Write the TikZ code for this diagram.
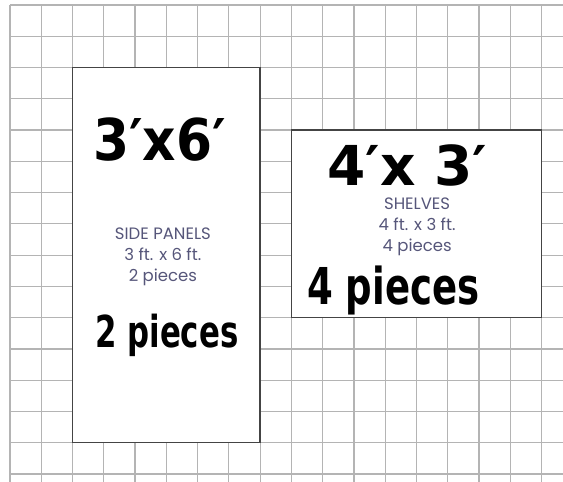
\documentclass[tikz,border=0pt]{standalone}
\usepackage{fontspec}
\usepackage{graphicx}
\usepackage{xcolor}
\usetikzlibrary{positioning}
\newfontfamily\printfont{Poppins}
\newfontfamily\handfont{DejaVu Sans}
\definecolor{gridgray}{HTML}{B4B4B4}
\definecolor{edgegray}{HTML}{444444}
\definecolor{printink}{HTML}{56567A}

\begin{document}
\begin{tikzpicture}[x=31.27pt, y=-31.27pt,
	gridline/.style={draw=gridgray, line width=1.2pt},
	panel/.style={draw=edgegray, fill=white, line width=1.4pt, inner sep=0pt},
	printed/.style={text=printink, font=\printfont\fontsize{16.5}{21}\selectfont, align=center},
	hand/.style={anchor=base west, inner sep=0pt, font=\handfont\bfseries\fontsize{#1}{#1}\selectfont}]
			\useasboundingbox (-0.32,-0.16) rectangle (17.685,15.25);
			% graph paper
			\foreach \i in {0,...,17}
				\draw[gridline] (\i,0) -- (\i,15.25);
			\foreach \j in {0,...,15}
				\draw[gridline] (0,\j) -- (17.685,\j);
			% the two cut pieces
			\node[panel, minimum width=187.6pt, minimum height=375.2pt] (side) at (5,8) {};
			\node[panel, minimum width=250.2pt, minimum height=187.6pt] (shelf) at (13,7) {};
			\node[printed] (sidetext) at (4.89,8.06) {SIDE PANELS\\3 ft. x 6 ft.\\2 pieces};
			\node[printed] (shelftext) at (13.02,7.1) {SHELVES\\4 ft. x 3 ft.\\4 pieces};
			% handwritten notes
			\node[hand=57.6] (sidesize) at (2.65,4.96) {\scalebox{0.9}[1]{3′x6′}};
			\node[hand=44] (sidecount) at (2.72,10.94) {\scalebox{0.7}[1]{2 pieces}};
			\node[hand=55] (shelfsize) at (10.14,5.76) {\scalebox{1.0}[1]{4′x 3′}};
			\node[hand=50.8] (shelfcount) at (9.5,9.59) {\scalebox{0.73}[1]{4 pieces}};
		\end{tikzpicture}
\end{document}
